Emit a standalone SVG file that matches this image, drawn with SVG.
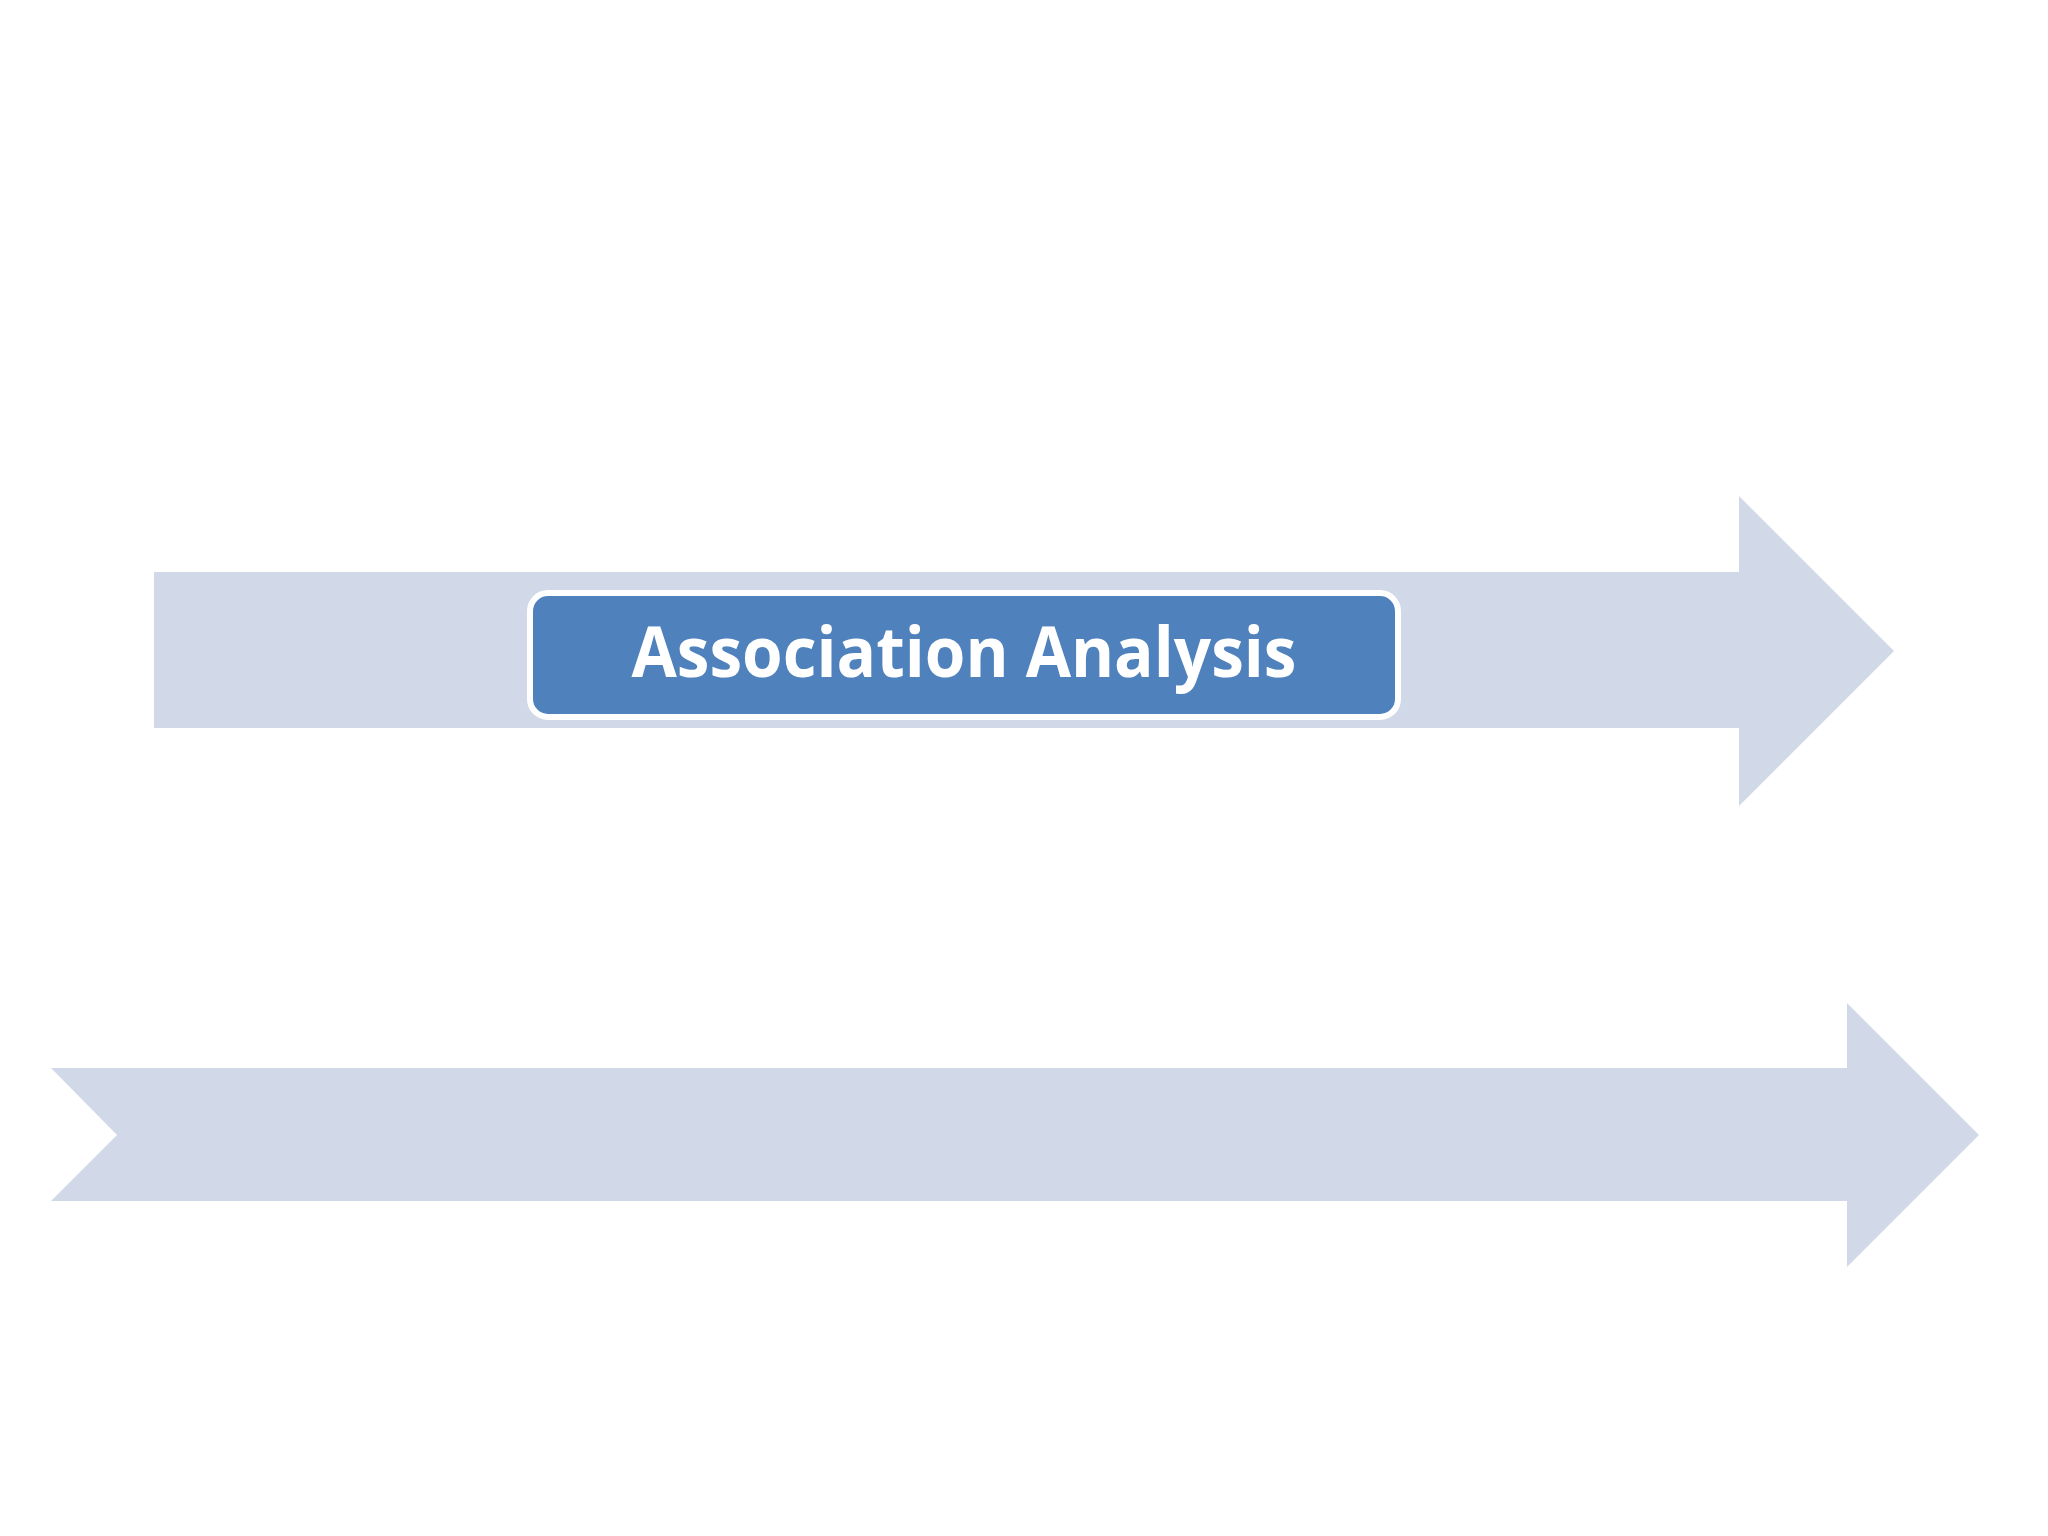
<svg xmlns="http://www.w3.org/2000/svg" width="2048" height="1536" viewBox="0 0 2048 1536">
<style>
.band{fill:#D1D9E8;stroke:none}
.box{fill:#4F81BD;stroke:#FFFFFF;stroke-width:6}
.lbl{font-family:"Open Sans","Liberation Sans",sans-serif;font-weight:bold;font-size:70px;fill:#FFFFFF}
</style>
<rect width="2048" height="1536" fill="#FFFFFF"/>
<g id="connectors">
<polygon id="arrow-top" class="band" points="154,572 1739,572 1739,496 1894,651 1739,806 1739,728 154,728"/>
<polygon id="arrow-bottom" class="band" points="51,1068 1847,1068 1847,1003 1979,1135 1847,1267 1847,1201 51,1201 117,1135"/>
</g>
<g id="node-association-analysis">
<rect class="box" x="530" y="593" width="868" height="124" rx="18" ry="18"/>
<text class="lbl" x="964" y="677" text-anchor="middle" textLength="665" lengthAdjust="spacingAndGlyphs">Association Analysis</text>
</g>
</svg>
